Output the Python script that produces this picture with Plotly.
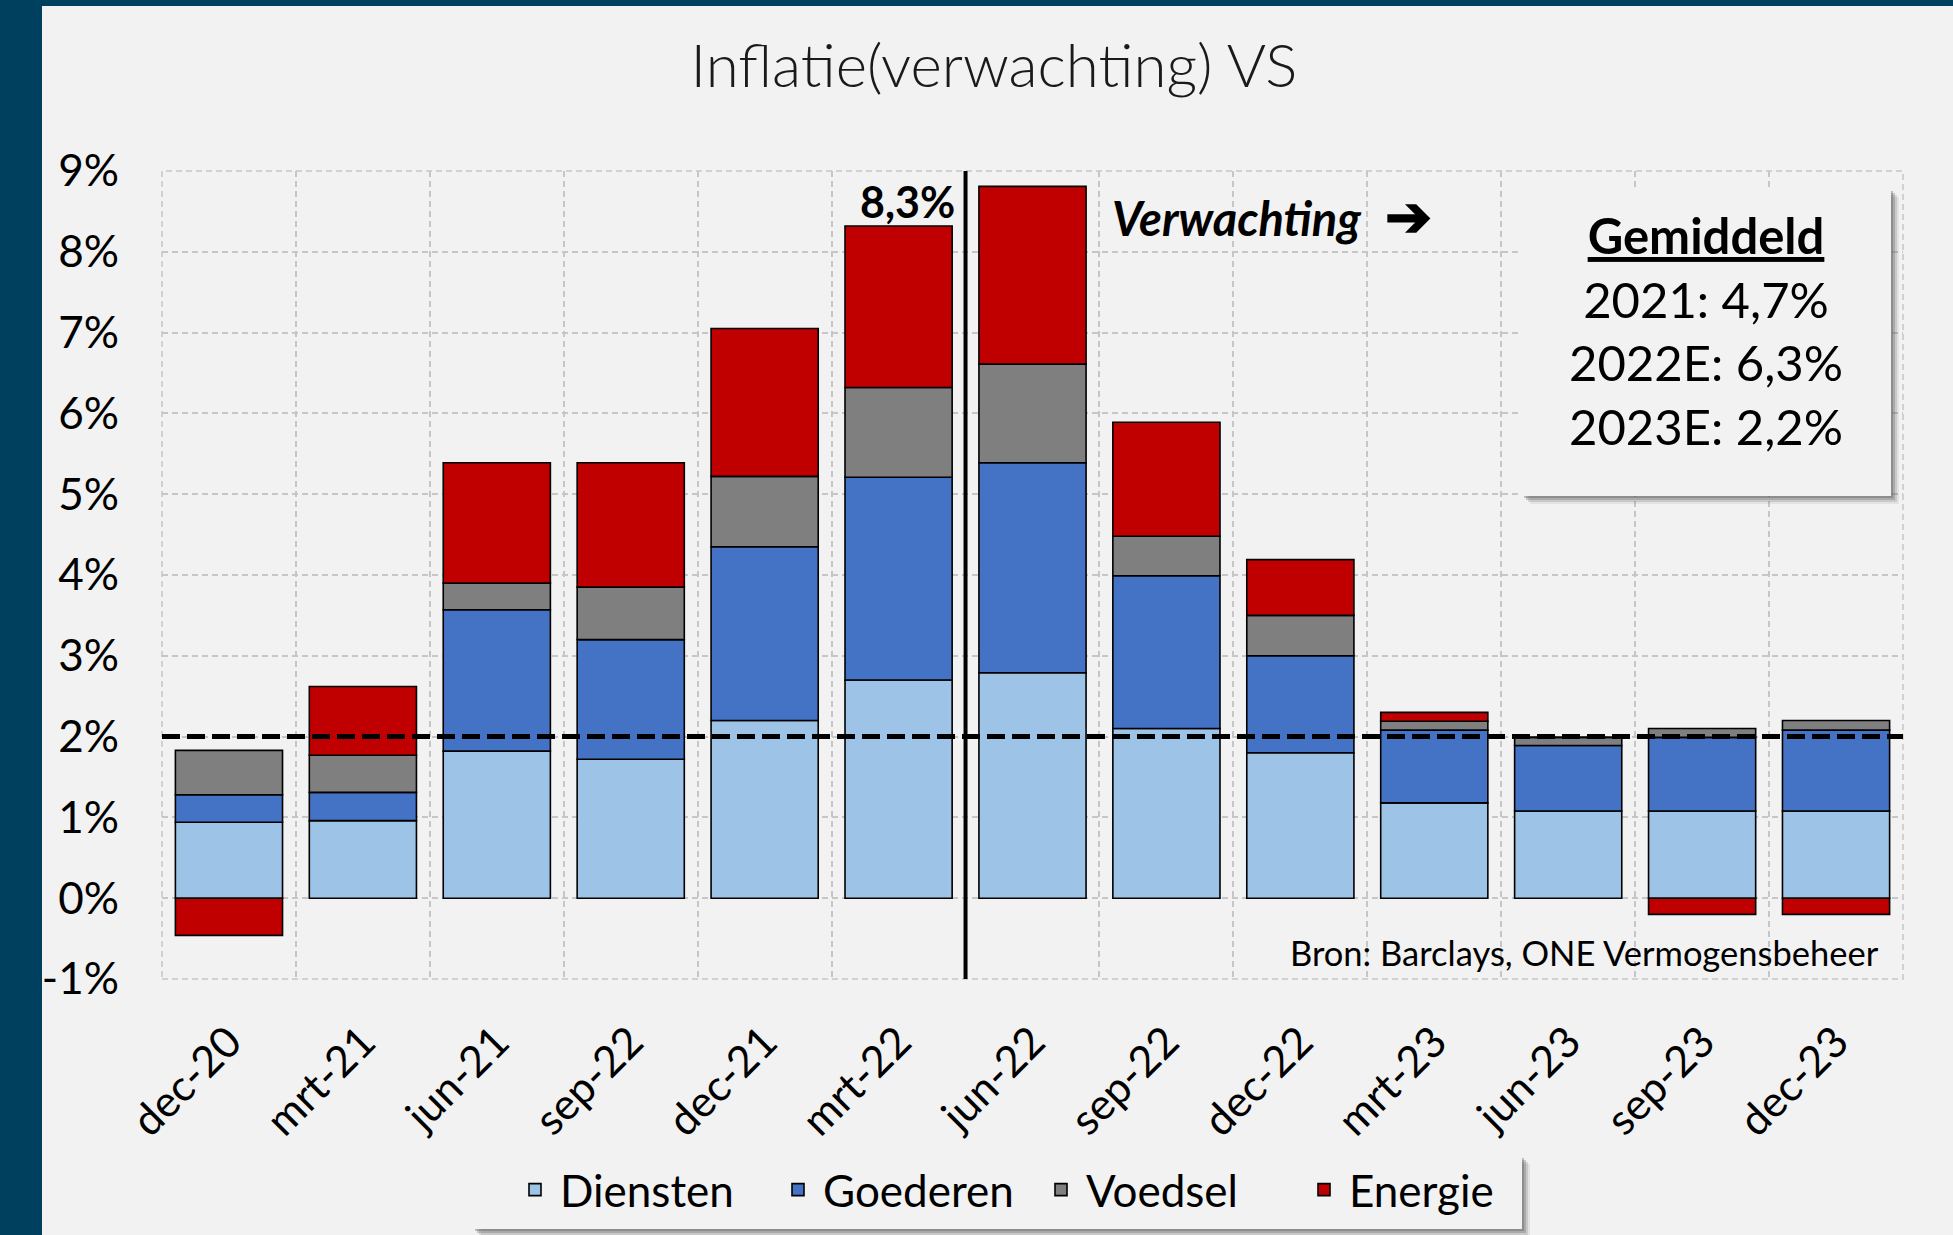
import plotly.graph_objects as go

# ---------------- data ----------------
categories = ["dec-20", "mrt-21", "jun-21", "sep-22", "dec-21", "mrt-22", "jun-22",
              "sep-22", "dec-22", "mrt-23", "jun-23", "sep-23", "dec-23"]
diensten = [0.94, 0.96, 1.82, 1.72, 2.20, 2.70, 2.79, 2.10, 1.80, 1.18, 1.08, 1.08, 1.08]
goederen = [0.34, 0.35, 1.75, 1.48, 2.15, 2.51, 2.60, 1.89, 1.20, 0.90, 0.81, 0.91, 1.00]
voedsel = [0.55, 0.46, 0.33, 0.65, 0.87, 1.11, 1.22, 0.49, 0.50, 0.11, 0.10, 0.11, 0.12]
energie = [-0.46, 0.85, 1.49, 1.54, 1.83, 2.00, 2.20, 1.41, 0.69, 0.11, 0.00, -0.20, -0.20]
series_names = ["Diensten", "Goederen", "Voedsel", "Energie"]
series_colors = ["#9DC3E6", "#4472C4", "#7F7F7F", "#C00000"]
ytick_vals = [-1, 0, 1, 2, 3, 4, 5, 6, 7, 8, 9]
ytick_text = ["-1%", "0%", "1%", "2%", "3%", "4%", "5%", "6%", "7%", "8%", "9%"]
target = 2.0
forecast_start = 6          # first forecast category (jun-22)
peak_label = "8,3%"
avg_lines = ["2021: 4,7%", "2022E: 6,3%", "2023E: 2,2%"]

# ---------------- layout geometry ----------------
W, H = 1953, 1235
L, R, T, B = 162, 50, 171, 256
pw, ph = W - L - R, H - T - B
FONT = "Lato, 'Open Sans', sans-serif"
BG = "#f2f2f2"
DARK = "#00405f"
GRID = "#c6c6c6"
BAR_W = 0.8


def px2x(px):
    return (px - L) / pw


def py2y(py):
    return (H - B - py) / ph


xs = list(range(len(categories)))
fig = go.Figure()
for name, vals, col in zip(series_names, [diensten, goederen, voedsel, energie], series_colors):
    fig.add_trace(go.Bar(
        x=xs, y=vals, name=name, width=BAR_W,
        marker=dict(color=col, line=dict(color="#000000", width=1.6)),
    ))

shapes = []
# page decoration: dark left and top bands
shapes.append(dict(type="rect", xref="paper", yref="paper", layer="below",
                   x0=px2x(0), x1=px2x(42), y0=py2y(H), y1=py2y(0),
                   fillcolor=DARK, line=dict(width=0)))
shapes.append(dict(type="rect", xref="paper", yref="paper", layer="below",
                   x0=px2x(0), x1=px2x(W), y0=py2y(6), y1=py2y(0),
                   fillcolor=DARK, line=dict(width=0)))
# dashed plot border
shapes.append(dict(type="rect", xref="paper", yref="paper", layer="below",
                   x0=0, x1=1, y0=0, y1=1, fillcolor="rgba(0,0,0,0)",
                   line=dict(color=GRID, width=1.5, dash="6px,4px")))
# target line (2%)
shapes.append(dict(type="line", xref="paper", yref="y", layer="above",
                   x0=0, x1=1, y0=target, y1=target,
                   line=dict(color="#000000", width=5, dash="18px,7px")))
# actual / forecast separator
shapes.append(dict(type="line", xref="x", yref="y", layer="above",
                   x0=forecast_start - 0.5, x1=forecast_start - 0.5,
                   y0=ytick_vals[0], y1=ytick_vals[-1],
                   line=dict(color="#000000", width=4)))


def shadow_box(x0, x1, y0, y1, layer):
    out = []
    for off, op in [(8, 0.10), (6, 0.18), (4, 0.28), (2, 0.35)]:
        out.append(dict(type="rect", xref="paper", yref="paper", layer=layer,
                        x0=px2x(x0 + off), x1=px2x(x1 + off),
                        y0=py2y(y1 + off), y1=py2y(y0 + off),
                        fillcolor="rgba(90,90,90,%.2f)" % op, line=dict(width=0)))
    out.append(dict(type="rect", xref="paper", yref="paper", layer=layer,
                    x0=px2x(x0), x1=px2x(x1), y0=py2y(y1), y1=py2y(y0),
                    fillcolor=BG, line=dict(width=0)))
    return out


shapes += shadow_box(1522, 1891, 189, 496, "above")   # Gemiddeld box
shapes += shadow_box(473, 1522, 1156, 1229, "below")  # legend box

annotations = []
peak_idx = 5
peak_total = diensten[peak_idx] + goederen[peak_idx] + voedsel[peak_idx] + energie[peak_idx]
annotations.append(dict(x=peak_idx + BAR_W / 2, y=peak_total, xref="x", yref="y",
                        text="<b>%s</b>" % peak_label, showarrow=False,
                        xanchor="right", yanchor="bottom", xshift=5, yshift=-3,
                        font=dict(family=FONT, size=43, color="#000000")))
annotations.append(dict(x=forecast_start + 0.58, y=8.46, xref="x", yref="y",
                        text="<b><i>Verwachting</i></b>  <b><span style='font-size:56px'>\u2794</span></b>",
                        showarrow=False, xanchor="left", yanchor="middle",
                        font=dict(family=FONT, size=47, color="#000000")))
annotations.append(dict(x=px2x(1706), y=py2y(330), xref="paper", yref="paper",
                        text="<b><u>Gemiddeld</u></b><br>" + "<br>".join(avg_lines),
                        showarrow=False, xanchor="center", yanchor="middle", align="center",
                        font=dict(family=FONT, size=49, color="#000000")))
annotations.append(dict(x=px2x(1881), y=py2y(952), xref="paper", yref="paper",
                        text="Bron: Barclays, ONE Vermogensbeheer", showarrow=False,
                        xanchor="right", yanchor="middle",
                        font=dict(family=FONT, size=34.5, color="#000000")))

fig.update_layout(
    width=W, height=H,
    margin=dict(l=L, r=R, t=T, b=B, autoexpand=False),
    paper_bgcolor=BG, plot_bgcolor=BG,
    barmode="relative",
    font=dict(family=FONT, color="#000000"),
    title=dict(text="Inflatie(verwachting) VS", x=994 / W, y=1 - 66 / H,
               xanchor="center", yanchor="middle", xref="container", yref="container",
               font=dict(family=FONT, size=60, color="#1a1a1a", weight=300)),
    xaxis=dict(range=[-0.5, len(categories) - 0.5], tickmode="array", tickvals=xs,
               ticktext=categories, tickangle=-45, showgrid=False, zeroline=False,
               showline=False, ticks="", ticklabelstandoff=28,
               tickfont=dict(family=FONT, size=43, color="#000000"),
               minor=dict(tick0=0.5, dtick=1, showgrid=True, gridcolor=GRID,
                          gridwidth=1.5, griddash="6px,4px", ticks="")),
    yaxis=dict(range=[ytick_vals[0], ytick_vals[-1]], tickmode="array", tickvals=ytick_vals,
               ticktext=ytick_text, showgrid=True, gridcolor=GRID, gridwidth=1.5,
               griddash="6px,4px", zeroline=False, showline=False, ticks="",
               ticklabelstandoff=42,
               tickfont=dict(family=FONT, size=44, color="#000000")),
    legend=dict(orientation="h", x=px2x(510), xanchor="left",
                y=py2y(1190), yanchor="middle", bgcolor="rgba(0,0,0,0)",
                font=dict(family=FONT, size=44, color="#000000"),
                traceorder="normal", itemwidth=40,
                entrywidth=208, entrywidthmode="pixels"),
    shapes=shapes, annotations=annotations,
    showlegend=True,
)

fig.write_html("out.html", config={"displayModeBar": False},
               post_script="document.body.style.margin='0';document.body.style.background='%s';" % BG)
